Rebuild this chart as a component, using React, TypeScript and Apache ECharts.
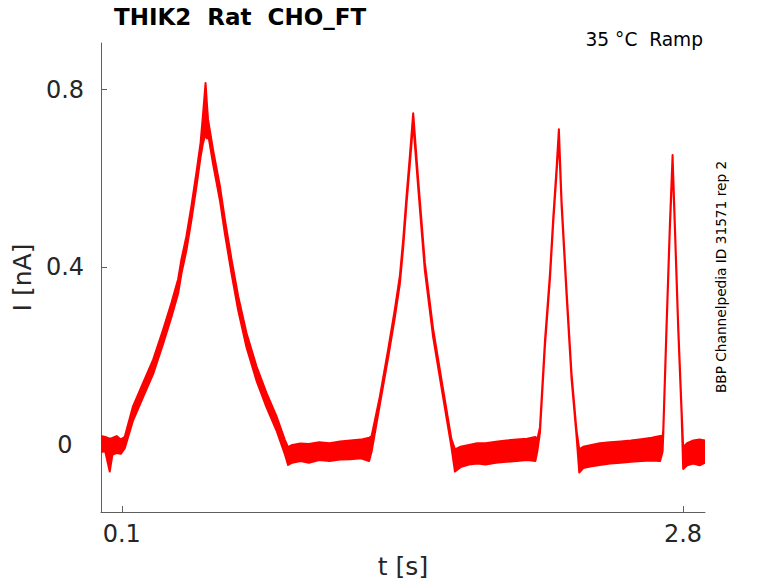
import React, { useEffect, useRef } from "react";
import * as echarts from "echarts";

// ---- data (t in s, current in nA) ----
const timeS = [
  0.0, 0.02, 0.042, 0.055, 0.075, 0.095,
  0.114, 0.154, 0.203, 0.251, 0.299, 0.339, 0.371, 0.387, 0.411, 0.435, 0.459, 0.479, 0.491, 0.503, 0.51,
  0.515, 0.539, 0.572, 0.596, 0.628, 0.66, 0.7, 0.748, 0.796, 0.844, 0.884, 0.9,
  0.92, 0.96, 1.0, 1.05, 1.1, 1.15, 1.2, 1.25, 1.29, 1.302,
  1.342, 1.382, 1.414, 1.438, 1.454, 1.47, 1.486, 1.502, 1.526, 1.558, 1.598, 1.646, 1.686, 1.703,
  1.73, 1.77, 1.81, 1.85, 1.9, 1.95, 2.0, 2.05, 2.09, 2.099,
  2.112, 2.136, 2.16, 2.176, 2.192, 2.203, 2.216, 2.24, 2.264, 2.288, 2.301,
  2.32, 2.36, 2.4, 2.45, 2.5, 2.55, 2.6, 2.65, 2.69, 2.702,
  2.705, 2.721, 2.737, 2.75, 2.761, 2.777, 2.793, 2.801,
  2.82, 2.85, 2.88, 2.906,
];

// lower edge of the recorded traces
const lowerNA = [
  -0.016, -0.014, -0.06, -0.022, -0.018, -0.02,
  -0.008, 0.055, 0.108, 0.16, 0.228, 0.288, 0.341, 0.386, 0.438, 0.506, 0.581, 0.648, 0.68, 0.7, 0.69,
  0.701, 0.633, 0.551, 0.476, 0.386, 0.303, 0.22, 0.145, 0.085, 0.033, -0.02, -0.045,
  -0.04, -0.036, -0.04, -0.034, -0.036, -0.033, -0.032, -0.03, -0.036, -0.015,
  0.092, 0.198, 0.288, 0.363, 0.445, 0.543, 0.633, 0.725, 0.58, 0.393, 0.243, 0.107, -0.005, -0.06,
  -0.05, -0.044, -0.042, -0.044, -0.04, -0.038, -0.036, -0.034, -0.036, -0.015,
  0.028, 0.223, 0.373, 0.501, 0.613, 0.69, 0.538, 0.336, 0.148, 0.02, -0.062,
  -0.052, -0.048, -0.045, -0.042, -0.04, -0.038, -0.036, -0.035, -0.036, -0.015,
  0.02, 0.26, 0.486, 0.635, 0.486, 0.26, 0.073, -0.054,
  -0.046, -0.042, -0.046, -0.04,
];

// upper edge of the recorded traces
const upperNA = [
  0.02, 0.018, 0.014, 0.016, 0.02, 0.012,
  0.018, 0.087, 0.14, 0.192, 0.26, 0.32, 0.373, 0.418, 0.47, 0.538, 0.613, 0.68, 0.745, 0.815, 0.765,
  0.733, 0.665, 0.583, 0.508, 0.418, 0.335, 0.252, 0.177, 0.117, 0.065, 0.012, -0.005,
  0.0, 0.003, 0.002, 0.006, 0.004, 0.008, 0.01, 0.012, 0.016, 0.02,
  0.11, 0.216, 0.306, 0.381, 0.463, 0.561, 0.651, 0.747, 0.598, 0.411, 0.261, 0.125, 0.013, -0.01,
  -0.004, 0.0, 0.004, 0.004, 0.007, 0.01, 0.012, 0.014, 0.018, 0.012,
  0.04, 0.235, 0.385, 0.513, 0.625, 0.711, 0.55, 0.348, 0.16, 0.032, -0.01,
  -0.004, 0.0, 0.004, 0.006, 0.008, 0.01, 0.013, 0.016, 0.02, 0.02,
  0.032, 0.272, 0.498, 0.653, 0.498, 0.272, 0.085, -0.005,
  0.004, 0.01, 0.012, 0.01,
];

const xTickValues = [0.1, 2.8];
const yTickValues = [0, 0.4, 0.8];

const titleText = "THIK2  Rat  CHO_FT";
const conditionText = "35 °C  Ramp";
const sourceText = "BBP Channelpedia ID 31571 rep 2";
const xName = "t [s]";
const yName = "I [nA]";

const FONT = '"DejaVu Sans", "Liberation Sans", sans-serif';
const RED = "#ff0000";
const AXIS = "#5f5f5f";
const TEXT = "#262626";

export default function App() {
  const ref = useRef<HTMLDivElement>(null);

  useEffect(() => {
    if (!ref.current) return;
    const chart = echarts.init(ref.current, null, { renderer: "svg" });
    const traceData = timeS.map((t, i) => [t, lowerNA[i], upperNA[i]]);

    const renderBand = (params: any, api: any) => {
      if (params.dataIndex !== 0) return { type: "group", children: [] };
      const pts: number[][] = [];
      for (let i = 0; i < timeS.length; i++) pts.push(api.coord([timeS[i], upperNA[i]]));
      for (let i = timeS.length - 1; i >= 0; i--) pts.push(api.coord([timeS[i], lowerNA[i]]));
      return {
        type: "polygon",
        shape: { points: pts },
        style: { fill: RED, stroke: RED, lineWidth: 2, lineJoin: "round" },
      };
    };

    chart.setOption({
      animation: false,
      backgroundColor: "#ffffff",
      grid: {
        left: 101,
        top: 43,
        right: 73,
        bottom: 71,
        containLabel: false,
        outerBoundsMode: "none",
      },
      xAxis: {
        type: "value",
        min: 0,
        max: 2.906,
        splitLine: { show: false },
        axisLine: { show: true, onZero: false, lineStyle: { color: AXIS, width: 1 } },
        axisTick: {
          show: true,
          inside: true,
          length: 6,
          customValues: xTickValues,
          lineStyle: { color: AXIS, width: 1 },
        },
        axisLabel: {
          customValues: xTickValues,
          formatter: (v: number) => String(v),
          fontSize: 24,
          fontFamily: FONT,
          color: TEXT,
          margin: 10,
        },
        name: xName,
        nameLocation: "middle",
        nameGap: 42,
        nameTextStyle: { fontSize: 25, fontFamily: FONT, color: TEXT },
      },
      yAxis: {
        type: "value",
        min: -0.151,
        max: 0.905,
        splitLine: { show: false },
        axisLine: { show: true, onZero: false, lineStyle: { color: AXIS, width: 1 } },
        axisTick: {
          show: true,
          inside: true,
          length: 6,
          customValues: yTickValues,
          lineStyle: { color: AXIS, width: 1 },
        },
        axisLabel: {
          customValues: yTickValues,
          formatter: (v: number) => String(v),
          fontSize: 24,
          fontFamily: FONT,
          color: TEXT,
          align: "center",
          margin: 36,
        },
        name: yName,
        nameLocation: "middle",
        nameGap: 62,
        nameRotate: 90,
        nameTextStyle: { fontSize: 25, fontFamily: FONT, color: TEXT },
      },
      series: [
        {
          type: "custom",
          data: traceData,
          encode: { x: 0, y: [1, 2] },
          renderItem: renderBand,
          clip: true,
          z: 3,
        },
      ],
      graphic: [
        {
          type: "text",
          left: 114,
          top: 5,
          style: {
            text: titleText,
            font: `bold 23px ${FONT}`,
            fill: "#000000",
          },
        },
        {
          type: "text",
          right: 75,
          top: 30,
          style: {
            text: conditionText,
            font: `18.6px ${FONT}`,
            fill: "#000000",
          },
        },
        {
          type: "text",
          x: 721,
          y: 277,
          rotation: Math.PI / 2,
          style: {
            text: sourceText,
            font: `13.7px ${FONT}`,
            fill: "#000000",
            align: "center",
            verticalAlign: "middle",
          },
        },
      ],
    });

    return () => chart.dispose();
  }, []);

  return (
    <div
      ref={ref}
      style={{
        position: "fixed",
        left: 0,
        top: 0,
        width: 778,
        height: 583,
        background: "#ffffff",
      }}
    />
  );
}
